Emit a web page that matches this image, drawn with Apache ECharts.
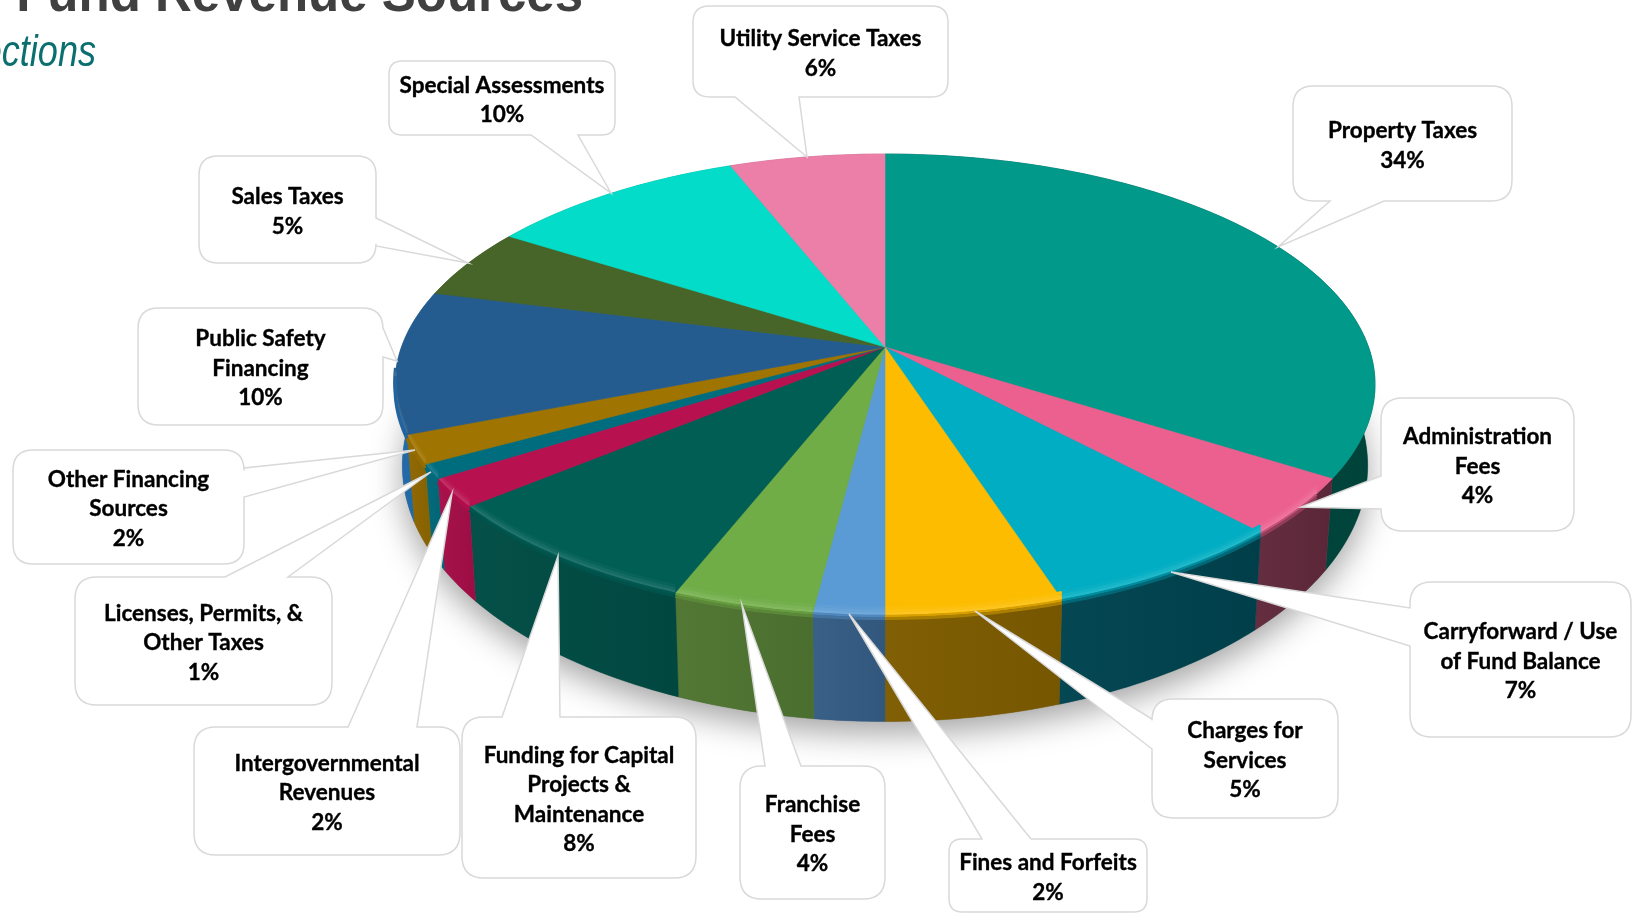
<!DOCTYPE html>
<html>
<head>
<meta charset="utf-8">
<title>General Fund Revenue Sources</title>
<script src="https://cdn.jsdelivr.net/npm/echarts@6/dist/echarts.min.js"></script>
<style>
  html, body { margin: 0; padding: 0; background: #ffffff; overflow: hidden; }
  #chart { width: 1632px; height: 913px; }
</style>
</head>
<body>
<div id="chart"></div>
<script>
// Revenue shares, clockwise from twelve o'clock
const categories = [
  'Property Taxes', 'Administration\nFees', 'Carryforward / Use\nof Fund Balance',
  'Charges for\nServices', 'Fines and Forfeits', 'Franchise\nFees',
  'Funding for Capital\nProjects &\nMaintenance', 'Intergovernmental\nRevenues',
  'Licenses, Permits, &\nOther Taxes', 'Other Financing\nSources',
  'Public Safety\nFinancing', 'Sales Taxes', 'Special Assessments', 'Utility Service Taxes'
];
const shares = [34, 4, 7, 5, 2, 4, 8, 2, 1, 2, 10, 5, 10, 6];

// Fill of each slice's top face and of its outer wall
const topColors = ['#00998a', '#ec6090', '#00adc2', '#fdbc00', '#5b9bd5', '#70ad47', '#005e55',
  '#b8114f', '#006d7f', '#a07400', '#255c8f', '#476528', '#03dcc8', '#ec7fa8'];
const wallColors = ['#00473f', '#612a3c', '#00434f', '#7d5c00', '#355d85', '#4f7531', '#004c44',
  '#a60e48', '#00697a', '#8f6700', '#2069a8', '#33491d', '#00a090', '#a05070'];

// Callout boxes: x, y, width, height, edge carrying the pointer, pointer base along that edge
const calloutBoxes = [
  [1293, 86, 219, 115, 'bottom', 1330, 1384],
  [1381, 398, 193, 133, 'left', 476, 509],
  [1410, 582, 221, 155, 'left', 608, 646],
  [1152, 699, 186, 119, 'left', 719, 749],
  [949, 839, 198, 73, 'top', 982, 1031],
  [740, 766, 145, 133, 'top', 765, 801],
  [462, 717, 234, 161, 'top', 502, 560],
  [194, 727, 266, 128, 'top', 348, 417],
  [75, 577, 257, 128, 'top', 225, 288],
  [13, 450, 231, 114, 'right', 468, 497],
  [138, 308, 245, 117, 'right', 328, 357],
  [199, 156, 177, 107, 'right', 218, 246],
  [389, 61, 226, 74, 'bottom', 531, 578],
  [693, 6, 255, 91, 'bottom', 735, 799]
];

// Projection of the tilted disc onto the page
const APEX_X = 885, APEX_Y = 347, DISC_R = 483.5, DISC_S = 224.4, TILT = 0.1628;
const WALL_SCALE_X = 0.985, WALL_SCALE_Y = 1.11, WALL_DROP = 77;
const total = shares.reduce((a, b) => a + b, 0);
const startShare = [];
shares.reduce((sum, v, i) => { startShare[i] = sum; return sum + v; }, 0);

const toAngle = share => share / total * Math.PI * 2;

function topPoint(theta, r = 1) {
  const w = 1 + TILT * Math.cos(theta) * r;
  return [APEX_X + DISC_R * r * Math.sin(theta) / w, APEX_Y - DISC_S * r * Math.cos(theta) / w];
}
function wallPoint(theta) {
  const p = topPoint(theta);
  return [APEX_X + (p[0] - APEX_X) * WALL_SCALE_X, APEX_Y + (p[1] - APEX_Y) * WALL_SCALE_Y + WALL_DROP];
}
function sampleAngles(a0, a1) {
  const n = Math.max(2, Math.ceil((a1 - a0) / (Math.PI / 180)));
  return Array.from({ length: n + 1 }, (_, i) => a0 + (a1 - a0) * i / n);
}
function mix(c1, c2, t) {
  const p = (c, i) => parseInt(c.substr(1 + i * 2, 2), 16);
  const ch = [0, 1, 2].map(i => Math.round(p(c1, i) * (1 - t) + p(c2, i) * t));
  return `rgb(${ch[0]},${ch[1]},${ch[2]})`;
}

// Rounded box outline with a wedge running out to the tip
function calloutPath(box, tip) {
  const [x, y, w, h, edge, b1, b2] = box;
  const r = Math.min(22, Math.min(w, h) * 0.18);
  const x2 = x + w, y2 = y + h;
  const wedge = side => edge !== side ? '' : {
    top: `L${b1} ${y}L${tip[0]} ${tip[1]}L${b2} ${y}`,
    right: `L${x2} ${b1}L${tip[0]} ${tip[1]}L${x2} ${b2}`,
    bottom: `L${b2} ${y2}L${tip[0]} ${tip[1]}L${b1} ${y2}`,
    left: `L${x} ${b2}L${tip[0]} ${tip[1]}L${x} ${b1}`
  }[side];
  return `M${x + r} ${y}${wedge('top')}L${x2 - r} ${y}Q${x2} ${y} ${x2} ${y + r}` +
    `${wedge('right')}L${x2} ${y2 - r}Q${x2} ${y2} ${x2 - r} ${y2}` +
    `${wedge('bottom')}L${x + r} ${y2}Q${x} ${y2} ${x} ${y2 - r}` +
    `${wedge('left')}L${x} ${y + r}Q${x} ${y} ${x + r} ${y}Z`;
}

const sliceData = shares.map((v, i) => [i, v]);

function renderShadow() {
  const points = sampleAngles(0, Math.PI * 2).map(wallPoint);
  return {
    type: 'polygon',
    shape: { points },
    style: {
      fill: '#777777',
      shadowBlur: 32,
      shadowOffsetY: 12,
      shadowOffsetX: 0,
      shadowColor: 'rgba(0,0,0,0.36)'
    }
  };
}

function renderWall(params, api) {
  const i = api.value(0);
  const a0 = toAngle(startShare[i]), a1 = toAngle(startShare[i] + api.value(1));
  const angles = sampleAngles(a0, a1);
  const points = angles.map(t => topPoint(t)).concat(angles.slice().reverse().map(wallPoint));
  const c = wallColors[i];
  return {
    type: 'polygon',
    shape: { points },
    style: {
      fill: new echarts.graphic.LinearGradient(0, 0, 1, 0, [
        { offset: 0, color: mix(c, '#ffffff', 0.02) },
        { offset: 1, color: mix(c, '#000000', 0.06) }
      ]),
      stroke: c,
      lineWidth: 0.4
    }
  };
}

function renderTop(params, api) {
  const i = api.value(0);
  const a0 = toAngle(startShare[i]), a1 = toAngle(startShare[i] + api.value(1));
  const angles = sampleAngles(a0, a1);
  const c = topColors[i], wall = wallColors[i];
  const children = [{
    type: 'polygon',
    shape: { points: [[APEX_X, APEX_Y]].concat(angles.map(t => topPoint(t))) },
    style: { fill: c, stroke: c, lineWidth: 0.6 }
  }];
  // Soft bevel along the front of the rim
  const front = angles.filter(t => t > 2.2 && t < 4.6);
  if (front.length > 1) {
    const line = dy => front.map(t => {
      const p = topPoint(t);
      return [p[0], p[1] + dy];
    });
    const bands = [
      [-7, mix(c, '#ffffff', 0.03), 3],
      [-4, mix(c, '#ffffff', 0.08), 3],
      [-1.5, mix(c, '#ffffff', 0.13), 2.5],
      [1, mix(c, wall, 0.3), 2.5],
      [3.5, mix(c, wall, 0.65), 3]
    ];
    bands.forEach(([dy, color, width]) => children.push({
      type: 'polyline',
      shape: { points: line(dy) },
      style: { stroke: color, lineWidth: width, fill: null, lineCap: 'butt' }
    }));
  }
  return { type: 'group', children };
}

function renderCallout(params, api) {
  const i = api.value(0);
  const box = calloutBoxes[i];
  const tip = topPoint(toAngle(startShare[i] + api.value(1) / 2));
  const label = categories[i] + '\n' + api.value(1) + '%';
  return {
    type: 'group',
    children: [
      {
        type: 'path',
        shape: { pathData: calloutPath(box, tip.map(v => Math.round(v))) },
        style: { fill: '#ffffff', stroke: '#d9d9d9', lineWidth: 1.5 }
      },
      {
        type: 'text',
        style: {
          x: box[0] + box[2] / 2,
          y: box[1] + box[3] / 2 + 2,
          text: label,
          fill: '#000000',
          stroke: '#000000',
          lineWidth: 0.35,
          font: 'bold 22.5px Lato, "Noto Sans", sans-serif',
          lineHeight: 29.5,
          align: 'center',
          verticalAlign: 'middle'
        }
      }
    ]
  };
}

const chart = echarts.init(document.getElementById('chart'), null, { renderer: 'canvas' });
const customBase = { type: 'custom', coordinateSystem: 'none', silent: true, animation: false, clip: false };

chart.setOption({
  backgroundColor: '#ffffff',
  animation: false,
  graphic: [
    {
      type: 'text', x: 583, y: 22,
      style: {
        text: 'General Fund Revenue Sources',
        fill: '#404040',
        font: 'bold 51px "Liberation Sans", Arial, sans-serif',
        align: 'right',
        verticalAlign: 'bottom'
      }
    },
    {
      type: 'text', x: 96, y: 76, scaleX: 0.82,
      style: {
        text: 'Projections',
        fill: '#0b6f70',
        font: 'italic 44px "Liberation Sans", sans-serif',
        align: 'right',
        verticalAlign: 'bottom'
      }
    }
  ],
  series: [
    Object.assign({}, customBase, { name: 'shadow', data: [[0]], renderItem: renderShadow, z: 1 }),
    Object.assign({}, customBase, { name: 'walls', data: sliceData, renderItem: renderWall, z: 2 }),
    Object.assign({}, customBase, { name: 'faces', data: sliceData, renderItem: renderTop, z: 3 }),
    Object.assign({}, customBase, { name: 'callouts', data: sliceData, renderItem: renderCallout, z: 4 })
  ]
});
</script>
</body>
</html>
